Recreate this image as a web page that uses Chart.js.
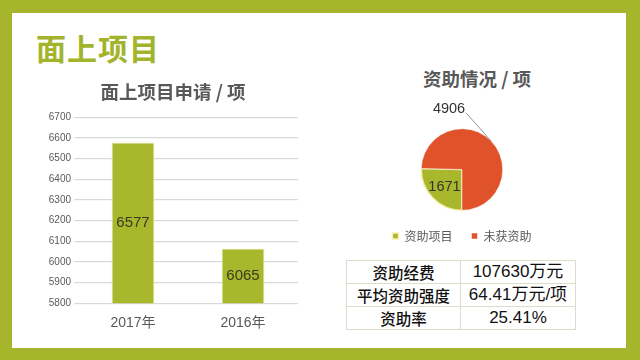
<!DOCTYPE html>
<html>
<head>
<meta charset="utf-8">
<script src="https://cdn.jsdelivr.net/npm/chart.js@4/dist/chart.umd.min.js"></script>
<style>
    html, body { margin: 0; padding: 0; }
    body {
        width: 640px; height: 360px; overflow: hidden; position: relative;
        background: #a6b52b;
        font-family: "Noto Sans CJK SC", "Liberation Sans", sans-serif;
    }
    #panel { position: absolute; left: 12px; top: 13px; width: 614px; height: 335px; background: #fff; }
    #main-title {
        position: absolute; left: 36px; top: 26px; margin: 0;
        font-size: 30px; line-height: 42px; font-weight: bold; color: #a3b42c; letter-spacing: 1px;
    }
    #bar-wrap { position: absolute; left: 28px; top: 76px; width: 290px; height: 268px; }
    #pie-wrap { position: absolute; left: 362px; top: 95px; width: 200px; height: 157px; }
    #pie-title {
        position: absolute; left: 377px; top: 65px; width: 200px; margin: 0; text-align: center;
        font-size: 18.5px; line-height: 26px; font-weight: bold; color: #595959;
    }
    #fund-table {
        position: absolute; left: 346px; top: 260px; width: 230px;
        border-collapse: collapse; color: #111;
    }
    #fund-table td {
        border: 1px solid #dcdccc; height: 22px; padding: 0; text-align: center; line-height: 22px;
    }
    #fund-table td.name { width: 113px; font-size: 15.5px; font-weight: 500; }
    #fund-table td.value { font-size: 17px; font-family: "Liberation Sans", "Noto Sans CJK SC", sans-serif; }
</style>
</head>
<body>
<div id="panel"></div>
<h1 id="main-title">面上项目</h1>
<div id="bar-wrap"><canvas id="barChart"></canvas></div>
<h2 id="pie-title">资助情况 / 项</h2>
<div id="pie-wrap"><canvas id="pieChart"></canvas></div>
<table id="fund-table"></table>

<script>
// ********
// * Data *
// ********
const years = ['2017年', '2016年'];
const applications = [6577, 6065];
const yMin = 5800;
const yMax = 6700;
const yStep = 100;

const fundLabels = ['资助项目', '未获资助'];
const fundCounts = [1671, 4906];

const tableNames = ['资助经费', '平均资助强度', '资助率'];
const tableValues = ['107630万元', '64.41万元/项', '25.41%'];

const green = '#a8b72c';
const orange = '#e0532a';
const grey = '#595959';

// *********
// * Table *
// *********
const fundTable = document.getElementById('fund-table');
tableNames.forEach((name, i) => {
    const row = document.createElement('tr');
    const nameCell = document.createElement('td');
    nameCell.className = 'name';
    nameCell.innerText = name;
    const valueCell = document.createElement('td');
    valueCell.className = 'value';
    valueCell.innerText = tableValues[i];
    row.appendChild(nameCell);
    row.appendChild(valueCell);
    fundTable.appendChild(row);
});

// ***********
// * Plugins *
// ***********
const barValueLabels = {
    id: 'barValueLabels',
    afterDraw(chart) {
        const ctx = chart.ctx;
        const yScale = chart.scales.y;
        const values = chart.data.datasets[0].data;
        const base = yScale.getPixelForValue(yMin);
        chart.getDatasetMeta(0).data.forEach((bar, i) => {
            const top = yScale.getPixelForValue(values[i]);
            ctx.save();
            ctx.font = '15px "Liberation Sans", sans-serif';
            ctx.fillStyle = '#3a3a22';
            ctx.textAlign = 'center';
            ctx.textBaseline = 'middle';
            ctx.fillText(String(values[i]), bar.x, (top + base) / 2);
            ctx.restore();
        });
    }
};

const pieValueLabels = {
    id: 'pieValueLabels',
    afterDatasetsDraw(chart) {
        const ctx = chart.ctx;
        const values = chart.data.datasets[0].data;
        const arcs = chart.getDatasetMeta(0).data;
        ctx.save();
        ctx.font = '14.5px "Liberation Sans", sans-serif';
        ctx.fillStyle = '#333';
        ctx.textBaseline = 'middle';

        // inside label for the small slice
        const a0 = arcs[0];
        const mid0 = (a0.startAngle + a0.endAngle) / 2;
        ctx.textAlign = 'center';
        ctx.fillText(values[0], a0.x + Math.cos(mid0) * a0.outerRadius * 0.6, a0.y + Math.sin(mid0) * a0.outerRadius * 0.6);

        // outside label with leader line for the big slice
        const a1 = arcs[1];
        const mid1 = (a1.startAngle + a1.endAngle) / 2;
        const ex = a1.x + Math.cos(mid1) * a1.outerRadius;
        const ey = a1.y + Math.sin(mid1) * a1.outerRadius;
        ctx.strokeStyle = '#7a7a7a';
        ctx.lineWidth = 0.8;
        ctx.beginPath();
        ctx.moveTo(ex, ey);
        ctx.lineTo(ex - 25, ey - 28);
        ctx.stroke();
        ctx.textAlign = 'right';
        ctx.fillText(values[1], ex - 26, ey - 32);
        ctx.restore();
    }
};

// **********
// * Charts *
// **********
new Chart(document.getElementById('barChart'), {
    type: 'bar',
    data: {
        labels: years,
        datasets: [{
            data: applications,
            backgroundColor: green,
            borderColor: '#f4f0b8',
            borderWidth: 1,
            barPercentage: 0.39,
            categoryPercentage: 1
        }]
    },
    options: {
        responsive: true,
        maintainAspectRatio: false,
        animation: false,
        // symmetric padding keeps the title centred; y labels spill left into the padding
        layout: { padding: { top: 0, right: 20, bottom: 0, left: 20 } },
        plugins: {
            legend: { display: false },
            tooltip: { enabled: false },
            title: {
                display: true,
                text: '面上项目申请 / 项',
                color: grey,
                font: { size: 18.5, weight: 'bold', family: '"Noto Sans CJK SC", sans-serif' },
                padding: { top: 5, bottom: 14 }
            }
        },
        scales: {
            x: {
                grid: { display: false, drawTicks: false },
                border: { display: false },
                ticks: { color: grey, padding: 12, font: { size: 14, family: '"Liberation Sans", "Noto Sans CJK SC", sans-serif' } }
            },
            y: {
                min: yMin,
                max: yMax,
                ticks: {
                    stepSize: yStep,
                    color: grey,
                    padding: 3,
                    font: { size: 10, family: '"Liberation Sans", sans-serif' },
                    callback: (value) => String(value)
                },
                grid: { color: '#d9d9d9', lineWidth: 1.2, tickLength: 4 },
                border: { display: false },
                afterFit(scale) { scale.width = 30; }
            }
        }
    },
    plugins: [barValueLabels]
});

new Chart(document.getElementById('pieChart'), {
    type: 'pie',
    data: {
        labels: fundLabels,
        datasets: [{
            data: fundCounts,
            backgroundColor: [green, orange],
            borderColor: ['#f6eeb2', '#ffffff'],
            borderWidth: [1.5, 0.5]
        }]
    },
    options: {
        responsive: true,
        maintainAspectRatio: false,
        animation: false,
        rotation: 180,
        layout: { padding: { top: 33, right: 0, bottom: 0, left: 0 } },
        plugins: {
            tooltip: { enabled: false },
            legend: {
                position: 'bottom',
                labels: {
                    boxWidth: 6,
                    boxHeight: 6,
                    padding: 19,
                    color: grey,
                    font: { size: 12, family: '"Noto Sans CJK SC", sans-serif' }
                }
            }
        }
    },
    plugins: [pieValueLabels]
});
</script>
</body>
</html>
